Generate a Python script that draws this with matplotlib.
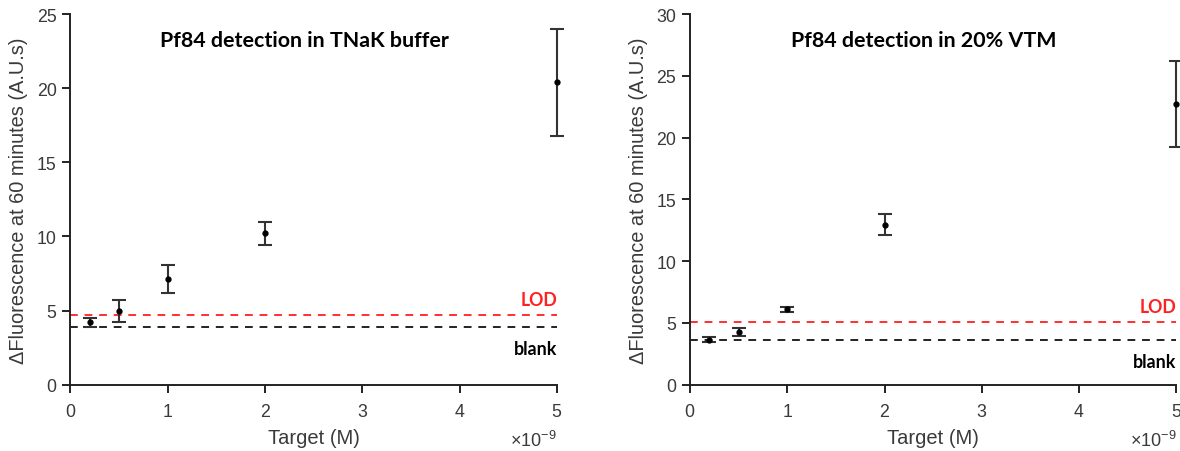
import matplotlib
matplotlib.use("Agg")
import matplotlib.pyplot as plt
from matplotlib.ticker import ScalarFormatter

# Data (target concentration in M)
target = [0.2e-9, 0.5e-9, 1e-9, 2e-9, 5e-9]

tnak_mean = [4.2, 4.95, 7.15, 10.2, 20.4]
tnak_err = [0.3, 0.75, 0.95, 0.75, 3.6]
tnak_lod = 4.7
tnak_blank = 3.9

vtm_mean = [3.65, 4.25, 6.1, 12.95, 22.7]
vtm_err = [0.2, 0.3, 0.2, 0.85, 3.5]
vtm_lod = 5.05
vtm_blank = 3.65

titles = ["Pf84 detection in TNaK buffer", "Pf84 detection in 20% VTM"]
ylims = [25, 30]
yticks = [[0, 5, 10, 15, 20, 25], [0, 5, 10, 15, 20, 25, 30]]
xticks = [0, 1e-9, 2e-9, 3e-9, 4e-9, 5e-9]
ylabel = "ΔFluorescence at 60 minutes (A.U.s)"
xlabel = "Target (M)"

plt.rcParams['font.family'] = ['Liberation Sans', 'DejaVu Sans']
plt.rcParams['mathtext.fontset'] = 'custom'
plt.rcParams['mathtext.rm'] = 'Liberation Sans'
plt.rcParams['mathtext.it'] = 'Liberation Sans'

fig = plt.figure(figsize=(11.8, 4.52), dpi=100)
ax1 = fig.add_axes([0.0597, 0.1467, 0.4123, 0.8200])
ax2 = fig.add_axes([0.5847, 0.1467, 0.4123, 0.8200])

datasets = [
    (ax1, tnak_mean, tnak_err, tnak_lod, tnak_blank),
    (ax2, vtm_mean, vtm_err, vtm_lod, vtm_blank),
]

tc = '#3a3a3a'
for i, (ax, m, e, lod, blank) in enumerate(datasets):
    ax.errorbar(target, m, yerr=e, fmt='o', color='black', ms=3.5,
                ecolor='#333333', elinewidth=1.5, capsize=5, capthick=1.5,
                clip_on=False, zorder=3)
    ax.axhline(lod, color='#ff3030', ls=(0, (4, 3.5)), lw=1.4, zorder=2)
    ax.axhline(blank, color='#222222', ls=(0, (4, 3.5)), lw=1.4, zorder=2)
    ax.set_xlim(0, 5e-9)
    ax.set_ylim(0, ylims[i])
    ax.set_xticks(xticks)
    ax.set_yticks(yticks[i])
    fmt = ScalarFormatter(useMathText=True)
    fmt.set_powerlimits((0, 0))
    ax.xaxis.set_major_formatter(fmt)
    ax.xaxis.get_offset_text().set_visible(False)
    for s in ['top', 'right']:
        ax.spines[s].set_visible(False)
    for s in ['left', 'bottom']:
        ax.spines[s].set_linewidth(1.4)
        ax.spines[s].set_color('#222222')
    ax.tick_params(direction='out', length=6, width=1.4, labelsize=12.8,
                   labelcolor=tc, color='#222222', pad=4)
    ax.tick_params(axis='x', pad=7)
    ax.set_xlabel(xlabel, fontsize=14.5, color=tc, labelpad=6)
    ax.set_ylabel(ylabel, fontsize=14.4, color=tc, labelpad=6)
    ax.set_title(titles[i], fontsize=15.4, fontweight='bold', family='Lato',
                 y=0.89, x=0.48, color='black')
    ax.text(1.0, -0.165, r'$\times10^{-9}$', fontsize=13, color=tc,
            ha='right', va='baseline', transform=ax.transAxes)
    ax.text(1.0, lod + ylims[i] * 0.02, 'LOD', color='#ff2020', fontsize=12.8,
            fontweight='bold', family='Lato', ha='right', va='bottom',
            transform=ax.get_yaxis_transform())
    ax.text(1.0, blank - ylims[i] * 0.035, 'blank', color='black', fontsize=12.8,
            fontweight='bold', family='Lato', ha='right', va='top',
            transform=ax.get_yaxis_transform())

fig.savefig('out.png', dpi=100)
